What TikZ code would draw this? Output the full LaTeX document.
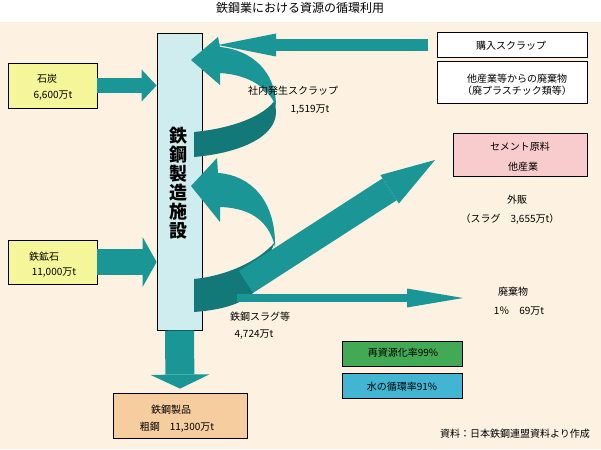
\documentclass[tikz,border=0pt]{standalone}
\usepackage{fontspec}
\setmainfont{Noto Sans CJK JP}
\usetikzlibrary{arrows.meta}

\definecolor{cream}{HTML}{FDF2E1}
\definecolor{flowteal}{HTML}{1A9696}
\definecolor{flowdark}{HTML}{137878}
\definecolor{plantblue}{HTML}{CFECEE}
\definecolor{rawyellow}{HTML}{F5F59A}
\definecolor{prodorange}{HTML}{F5CD9E}
\definecolor{salepink}{HTML}{F8CCCC}
\definecolor{ratiogreen}{HTML}{42AA55}
\definecolor{ratioblue}{HTML}{42B5D5}

\tikzset{
  box/.style={draw=black, line width=0.8pt, inner sep=0pt},
  lbl/.style={inner sep=0pt, font=\fontsize{10}{12}\selectfont},
  flow/.style={draw=flowteal, -{Triangle[#1, line width=0pt]}},
}

\begin{document}
\begin{tikzpicture}[x=1pt,y=-1pt]
\useasboundingbox (0,0) rectangle (601,449);
\fill[cream] (0,22) rectangle (601,449);
\node[inner sep=0pt, font=\fontsize{12}{14}\selectfont] (title) at (300,8) {鉄鋼業における資源の循環利用};

% plant
\node[box, fill=plantblue, minimum width=45pt, minimum height=297pt] (plant) at (179.5,181.5) {};
\node[inner sep=0pt, align=center, font=\fontsize{18}{19}\selectfont\bfseries] (planttext) at (178,183.5) {鉄\\鋼\\製\\造\\施\\設};

% inputs and outputs
\node[box, fill=rawyellow, minimum width=89pt, minimum height=45pt] (coal) at (52.5,85.5) {};
\node[box, fill=rawyellow, minimum width=89pt, minimum height=44pt] (ore) at (52.5,262) {};
\node[box, fill=prodorange, minimum width=134pt, minimum height=45pt] (product) at (180,415.5) {};
\node[box, fill=white, minimum width=150pt, minimum height=25pt] (buy) at (512,44.5) {};
\node[box, fill=white, minimum width=150pt, minimum height=42pt] (other) at (512,82) {};
\node[box, fill=salepink, minimum width=134pt, minimum height=43pt] (cement) at (520,154.5) {};
\node[box, fill=ratiogreen, minimum width=120pt, minimum height=25pt] (recyc) at (402,353.5) {};
\node[box, fill=ratioblue, minimum width=120pt, minimum height=25pt] (water) at (402,385.5) {};

\coordinate (buystart) at (428,45);
\coordinate (buytip) at (218,45);
\coordinate (slagstart) at (246,282);
\coordinate (saletip) at (435,160);
\coordinate (wastestart) at (237,298);
\coordinate (wastetip) at (463,298);

% in-house scrap loop
\fill[flowdark] (194,132) .. controls (235,128) and (265,115) .. (275,100) -- (276,112) .. controls (276,137) and (240,153) .. (194,157) -- cycle;
\fill[flowteal] (191,60) -- (218,37) -- (220,47) .. controls (252,50) and (276,72) .. (276,106) .. controls (268,88) and (250,75) .. (220,73) -- (220,85) -- cycle;

% slag loop
\fill[flowdark] (194,279) .. controls (225,276) and (258,262) .. (275,242) -- (253,293) .. controls (240,305) and (220,310) .. (194,312) -- cycle;
\fill[flowteal] (191,186) -- (217,158) -- (218,173) .. controls (250,175) and (276,200) .. (275,247) .. controls (270,225) and (255,208) .. (220,207) -- (220,222) -- cycle;

% arrows
\draw[flow={length=54pt,width=34pt}, line width=26pt] (slagstart) -- (saletip);
\draw[flow={length=56pt,width=19pt}, line width=8pt] (wastestart) -- (wastetip);
\draw[flow={length=58pt,width=23pt}, line width=12pt] (buystart) -- (buytip);
\draw[flow={length=15pt,width=32pt}, line width=15pt] (coal.east) -- (plant.west |- coal.east);
\draw[flow={length=14pt,width=50pt}, line width=26pt] (ore.east) -- (plant.west |- ore.east);
\draw[flow={length=14pt,width=59pt}, line width=29pt] (plant.south) -- ([yshift=4pt]product.north);

% texts
\node[lbl] (coalname) at (47,79) {石炭};
\node[lbl] (coalamt) at (53,96) {6,600万t};
\node[lbl] (orename) at (44,257) {鉄鉱石};
\node[lbl] (oreamt) at (54,273) {11,000万t};
\node[lbl] (prodname) at (171,410) {鉄鋼製品};
\node[lbl] (prodamt) at (177,427) {粗鋼　11,300万t};
\node[lbl] (buyname) at (511,46) {購入スクラップ};
\node[lbl, align=center] (othername) at (517,84.5) {他産業等からの廃棄物\\（廃プラスチック類等）};
\node[lbl] (cementname) at (520,147) {セメント原料};
\node[lbl] (cementind) at (523,167) {他産業};
\node[lbl] (salename) at (517,200) {外販};
\node[lbl] (saleamt) at (510,219) {（スラグ　3,655万t）};
\node[lbl] (wastename) at (513,292) {廃棄物};
\node[lbl] (wasteamt) at (519,311) {1％　69万t};
\node[lbl] (scrapname) at (293,91) {社内発生スクラップ};
\node[lbl] (scrapamt) at (310,110) {1,519万t};
\node[lbl] (slagname) at (260,317) {鉄鋼スラグ等};
\node[lbl] (slagamt) at (254,335) {4,724万t};
\node[lbl] (recyctext) at (403,353) {再資源化率99\%};
\node[lbl] (watertext) at (402,387) {水の循環率91\%};
\node[lbl] (source) at (515,434) {資料：日本鉄鋼連盟資料より作成};
\end{tikzpicture}
\end{document}
